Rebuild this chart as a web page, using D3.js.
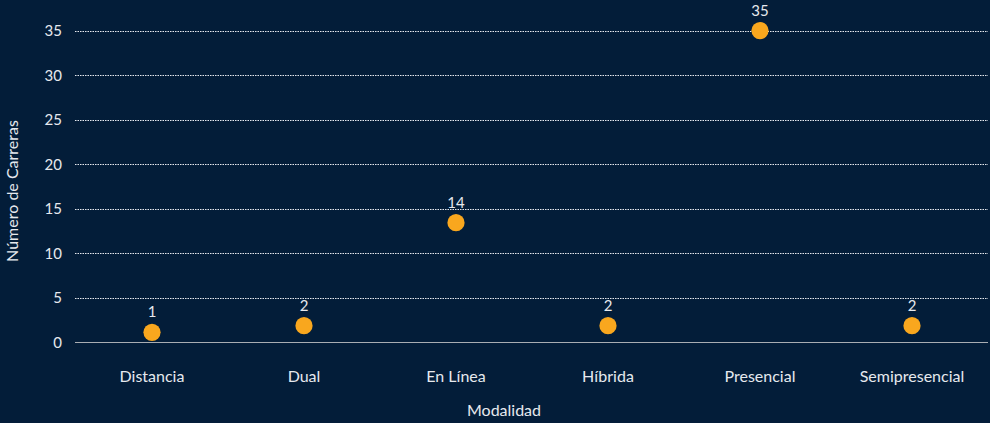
<!DOCTYPE html>
<html>
<head>
<meta charset="utf-8">
<script src="https://cdn.jsdelivr.net/npm/d3@7"></script>
<style>
  body { margin: 0; background: #031d39; }
  svg text { font-family: Lato, "Open Sans", sans-serif; fill: #e6e9ee; }
</style>
</head>
<body>
<div id="chart"></div>
<script>
const width = 990
const height = 423

// data
const modalidades = ["Distancia", "Dual", "En Línea", "Híbrida", "Presencial", "Semipresencial"]
const carreras = [1, 2, 14, 2, 35, 2]
// where the dots actually sit (slightly off the counts in the original)
const dotValues = [1.12, 1.87, 13.45, 1.87, 35.05, 1.87]
const yTicks = [0, 5, 10, 15, 20, 25, 30, 35]

const svg = d3.select("#chart").append("svg")
    .attr("width", width)
    .attr("height", height)
    .style("background", "#031d39")

const xScale = d3.scalePoint()
    .domain(modalidades)
    .range([76, 988])
    .padding(0.5)

const yScale = d3.scaleLinear()
    .domain([0, 35])
    .range([342.3, 31])

// grid lines
svg.append("g")
    .selectAll("line")
    .data(yTicks.filter(d => d > 0))
    .join("line")
    .attr("x1", 75)
    .attr("x2", 988)
    .attr("y1", d => Math.round(yScale(d)) + 0.5)
    .attr("y2", d => Math.round(yScale(d)) + 0.5)
    .attr("stroke", "#e6e9ee")
    .attr("stroke-width", 1)
    .attr("stroke-dasharray", "1.5,1")

// zero line
svg.append("line")
    .attr("x1", 75)
    .attr("x2", 988)
    .attr("y1", Math.round(yScale(0)) + 0.5)
    .attr("y2", Math.round(yScale(0)) + 0.5)
    .attr("stroke", "#a9adb3")
    .attr("stroke-width", 1.2)

// y tick labels
svg.append("g")
    .selectAll("text")
    .data(yTicks)
    .join("text")
    .attr("x", 62)
    .attr("y", d => yScale(d))
    .attr("dy", "0.36em")
    .attr("text-anchor", "end")
    .attr("font-size", 15)
    .text(d => d)

// x category labels
svg.append("g")
    .selectAll("text")
    .data(modalidades)
    .join("text")
    .attr("x", d => xScale(d))
    .attr("y", 382)
    .attr("text-anchor", "middle")
    .attr("font-size", 16)
    .text(d => d)

// axis titles
svg.append("text")
    .attr("x", 504)
    .attr("y", 416)
    .attr("text-anchor", "middle")
    .attr("font-size", 16)
    .text("Modalidad")

svg.append("text")
    .attr("transform", "translate(18," + 191 + ") rotate(-90)")
    .attr("text-anchor", "middle")
    .attr("font-size", 16)
    .text("Número de Carreras")

// dots
const points = modalidades.map((m, i) => ({ m: m, n: carreras[i], v: dotValues[i] }))

svg.append("g")
    .selectAll("circle")
    .data(points)
    .join("circle")
    .attr("cx", d => xScale(d.m))
    .attr("cy", d => yScale(d.v))
    .attr("r", 8.6)
    .attr("fill", "#f9a71e")

// value labels
svg.append("g")
    .selectAll("text")
    .data(points)
    .join("text")
    .attr("x", d => xScale(d.m))
    .attr("y", d => yScale(d.v) - 15)
    .attr("text-anchor", "middle")
    .attr("font-size", 15)
    .text(d => d.n)
</script>
</body>
</html>
